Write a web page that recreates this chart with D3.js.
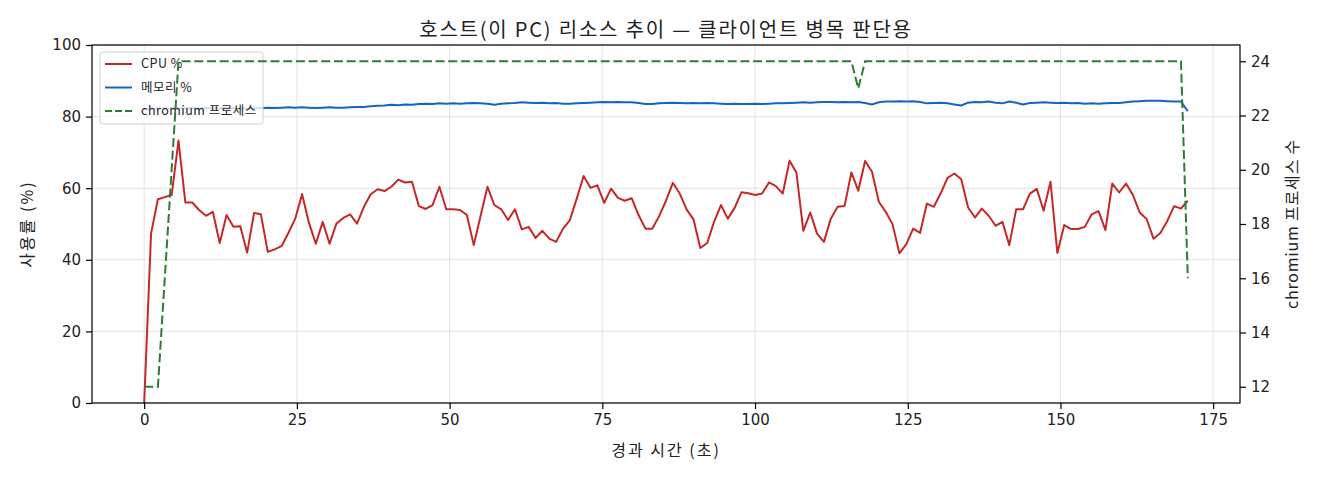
<!DOCTYPE html>
<html>
<head>
<meta charset="utf-8">
<script src="https://cdn.jsdelivr.net/npm/d3@7"></script>
<style>
  body { margin: 0; background: #fff; }
  text { font-family: "Noto Sans CJK KR", "Noto Sans", sans-serif; fill: #222; }
  .tick text { font-family: "DejaVu Sans", "Noto Sans CJK KR", sans-serif; }
</style>
</head>
<body>
<div id="chart"></div>
<script>
// data, one sample every ~1.124 s
const sampleStep = 1.124;

const cpuPct = [
  0, 47.3, 56.9, 57.5, 58.1, 73.3, 56.0, 56.0, 53.9, 52.3,
  53.4, 44.7, 52.5, 49.2, 49.4, 42.0, 53.1, 52.7, 42.2, 42.9,
  43.8, 47.5, 51.5, 58.3, 50.3, 44.5, 50.6, 44.5, 50.1, 51.7,
  52.7, 50.1, 54.8, 58.3, 59.7, 59.2, 60.4, 62.4, 61.6, 61.8,
  55.0, 54.2, 55.3, 60.4, 54.1, 54.1, 53.9, 52.5, 44.1, 52.3,
  60.4, 55.3, 54.1, 51.1, 54.1, 48.5, 49.2, 46.1, 48.1, 45.9,
  45.0, 48.7, 51.1, 57.1, 63.4, 60.1, 60.8, 55.9, 59.9, 57.3,
  56.5, 57.2, 52.5, 48.7, 48.7, 52.2, 56.5, 61.5, 58.5, 54.1,
  51.3, 43.3, 44.7, 50.6, 55.3, 51.5, 54.5, 58.9, 58.6, 58.1,
  58.5, 61.6, 60.6, 58.5, 67.7, 64.3, 48.1, 53.2, 47.3, 45.0,
  51.5, 54.8, 55.0, 64.4, 59.3, 67.6, 64.6, 56.2, 53.4, 49.9,
  41.8, 44.4, 48.7, 47.5, 55.7, 54.8, 58.5, 62.9, 64.1, 62.5,
  54.6, 51.8, 54.3, 52.3, 49.5, 50.6, 44.1, 54.1, 54.1, 58.5,
  59.8, 53.7, 61.8, 41.9, 49.7, 48.6, 48.6, 49.2, 52.7, 53.6,
  48.3, 61.3, 58.8, 61.3, 58.1, 53.2, 51.4, 45.9, 47.5, 50.8,
  55.0, 54.3, 56.5
];

const memPct = [
  82.0, 82.2, 82.3, 82.3, 82.4, 82.3, 82.3, 82.4, 82.3, 82.4,
  82.3, 82.3, 82.4, 82.3, 82.2, 82.3, 82.4, 82.3, 82.5, 82.4,
  82.5, 82.6, 82.5, 82.6, 82.5, 82.4, 82.5, 82.6, 82.5, 82.5,
  82.6, 82.7, 82.7, 82.9, 83.0, 83.1, 83.3, 83.2, 83.4, 83.3,
  83.5, 83.6, 83.5, 83.7, 83.6, 83.7, 83.6, 83.7, 83.8, 83.7,
  83.6, 83.3, 83.6, 83.7, 83.8, 84.0, 83.9, 83.8, 83.9, 83.7,
  83.8, 83.6, 83.6, 83.7, 83.8, 83.9, 84.0, 84.1, 84.0, 84.1,
  84.0, 84.0, 83.8, 83.5, 83.5, 83.7, 83.8, 83.9, 83.8, 83.7,
  83.8, 83.7, 83.8, 83.7, 83.6, 83.5, 83.6, 83.5, 83.5, 83.6,
  83.5, 83.6, 83.7, 83.7, 83.8, 83.9, 84.0, 83.9, 84.0, 84.1,
  84.1, 84.0, 84.1, 84.0, 84.1, 83.8, 83.4, 84.0, 84.2, 84.2,
  84.3, 84.2, 84.3, 84.1, 83.7, 83.8, 83.9, 83.7, 83.4, 83.1,
  83.9, 84.1, 84.0, 84.2, 83.9, 83.7, 84.2, 83.9, 83.4, 83.8,
  83.9, 84.0, 83.9, 83.8, 83.9, 83.7, 83.8, 83.6, 83.7, 83.6,
  83.7, 83.8, 83.8, 84.0, 84.2, 84.3, 84.4, 84.4, 84.4, 84.3,
  84.2, 84.2, 81.5
];

const chromiumCount = [
  12, 12, 12, 16, 20, 24, 24, 24, 24, 24,
  24, 24, 24, 24, 24, 24, 24, 24, 24, 24,
  24, 24, 24, 24, 24, 24, 24, 24, 24, 24,
  24, 24, 24, 24, 24, 24, 24, 24, 24, 24,
  24, 24, 24, 24, 24, 24, 24, 24, 24, 24,
  24, 24, 24, 24, 24, 24, 24, 24, 24, 24,
  24, 24, 24, 24, 24, 24, 24, 24, 24, 24,
  24, 24, 24, 24, 24, 24, 24, 24, 24, 24,
  24, 24, 24, 24, 24, 24, 24, 24, 24, 24,
  24, 24, 24, 24, 24, 24, 24, 24, 24, 24,
  24, 24, 24, 24, 23, 24, 24, 24, 24, 24,
  24, 24, 24, 24, 24, 24, 24, 24, 24, 24,
  24, 24, 24, 24, 24, 24, 24, 24, 24, 24,
  24, 24, 24, 24, 24, 24, 24, 24, 24, 24,
  24, 24, 24, 24, 24, 24, 24, 24, 24, 24,
  24, 24, 16
];

const xTicks = [0, 25, 50, 75, 100, 125, 150, 175];
const leftTicks = [0, 20, 40, 60, 80, 100];
const rightTicks = [12, 14, 16, 18, 20, 22, 24];
const legendLabels = ['CPU %', '메모리 %', 'chromium 프로세스'];

const titleText = '호스트(이 PC) 리소스 추이 — 클라이언트 병목 판단용';
const xLabel = '경과 시간 (초)';
const yLabelLeft = '사용률 (%)';
const yLabelRight = 'chromium 프로세스 수';

// layout
const margin = {top: 45, right: 80, bottom: 77, left: 92};
const width = 1320 - margin.left - margin.right;
const height = 480 - margin.top - margin.bottom;

const colors = {cpu: '#c62828', mem: '#1565c0', chrome: '#2e7d32'};

const svg = d3.select('#chart').append('svg')
    .attr('width', width + margin.left + margin.right)
    .attr('height', height + margin.top + margin.bottom);

const g = svg.append('g')
    .attr('transform', 'translate(' + margin.left + ',' + margin.top + ')');

const times = cpuPct.map((d, i) => i * sampleStep);
const tMax = d3.max(times);

// scales (matplotlib-like 5% padding)
const xScale = d3.scaleLinear()
    .domain([-0.05 * tMax, tMax * 1.05])
    .range([0, width]);

const yScale = d3.scaleLinear()
    .domain([0, 100])
    .range([height, 0]);

const cMin = d3.min(chromiumCount), cMax = d3.max(chromiumCount);
const cPad = (cMax - cMin) * 0.05;
const y2Scale = d3.scaleLinear()
    .domain([cMin - cPad, cMax + cPad])
    .range([height, 0]);

// grid
g.append('g').selectAll('line.gx')
    .data(xTicks).enter().append('line')
    .attr('x1', d => xScale(d)).attr('x2', d => xScale(d))
    .attr('y1', 0).attr('y2', height)
    .attr('stroke', '#e3e3e3').attr('stroke-width', 1);

g.append('g').selectAll('line.gy')
    .data(leftTicks).enter().append('line')
    .attr('x1', 0).attr('x2', width)
    .attr('y1', d => yScale(d)).attr('y2', d => yScale(d))
    .attr('stroke', '#e3e3e3').attr('stroke-width', 1);

// lines
const pctLine = d3.line()
    .x((d, i) => xScale(times[i]))
    .y(d => yScale(d));

const chromeLine = d3.line()
    .x((d, i) => xScale(times[i]))
    .y(d => y2Scale(d));

g.append('path')
    .datum(cpuPct)
    .attr('fill', 'none')
    .attr('stroke', colors.cpu)
    .attr('stroke-width', 2)
    .attr('stroke-linejoin', 'round')
    .attr('d', pctLine);

g.append('path')
    .datum(memPct)
    .attr('fill', 'none')
    .attr('stroke', colors.mem)
    .attr('stroke-width', 2)
    .attr('stroke-linejoin', 'round')
    .attr('d', pctLine);

// legend (belongs to the left axes, so the twin line is drawn over it)
const legend = g.append('g')
    .attr('transform', 'translate(8,7)');

legend.append('rect')
    .attr('width', 163).attr('height', 72)
    .attr('rx', 3)
    .attr('fill', '#fff').attr('fill-opacity', 0.8)
    .attr('stroke', '#cfcfcf');

const legendStyles = [
    {color: colors.cpu, dash: null},
    {color: colors.mem, dash: null},
    {color: colors.chrome, dash: '7,3'}
];

legendLabels.forEach((label, i) => {
    const row = legend.append('g')
        .attr('transform', 'translate(0,' + (12 + i * 23.5) + ')');
    row.append('line')
        .attr('x1', 5).attr('x2', 32)
        .attr('stroke', legendStyles[i].color)
        .attr('stroke-width', 2)
        .attr('stroke-dasharray', legendStyles[i].dash);
    row.append('text')
        .attr('x', 41)
        .attr('dy', '0.35em')
        .attr('font-size', 12.5)
        .attr('letter-spacing', 0.5)
        .text(label);
});

// twin axis line
g.append('path')
    .datum(chromiumCount)
    .attr('fill', 'none')
    .attr('stroke', colors.chrome)
    .attr('stroke-width', 2)
    .attr('stroke-dasharray', '9,3.7')
    .attr('d', chromeLine);

// axes
const xAxis = d3.axisBottom(xScale).tickValues(xTicks).tickSize(6).tickPadding(5);
const yAxis = d3.axisLeft(yScale).tickValues(leftTicks).tickSize(6).tickPadding(5);
const y2Axis = d3.axisRight(y2Scale).tickValues(rightTicks).tickSize(6).tickPadding(5);

function styleAxis(sel) {
    sel.select('.domain').remove();
    sel.selectAll('.tick line').attr('stroke', '#000').attr('stroke-width', 1.2);
    sel.selectAll('.tick text').attr('font-size', 15).attr('fill', '#222');
}

g.append('g').attr('transform', 'translate(0,' + height + ')').call(xAxis).call(styleAxis);
g.append('g').call(yAxis).call(styleAxis);
g.append('g').attr('transform', 'translate(' + width + ',0)').call(y2Axis).call(styleAxis);

// frame
g.append('rect')
    .attr('width', width).attr('height', height)
    .attr('fill', 'none')
    .attr('stroke', '#000').attr('stroke-width', 1.2);

// texts
svg.append('text')
    .attr('x', margin.left + width / 2)
    .attr('y', 30)
    .attr('dy', '0.35em')
    .attr('text-anchor', 'middle')
    .attr('font-size', 20)
    .attr('letter-spacing', 1.8)
    .text(titleText);

svg.append('text')
    .attr('x', margin.left + width / 2)
    .attr('y', 450)
    .attr('dy', '0.35em')
    .attr('text-anchor', 'middle')
    .attr('font-size', 16)
    .attr('letter-spacing', 2)
    .text(xLabel);

svg.append('text')
    .attr('transform', 'translate(27,' + (margin.top + height / 2) + ') rotate(-90)')
    .attr('dy', '0.35em')
    .attr('text-anchor', 'middle')
    .attr('font-size', 16)
    .attr('letter-spacing', 2)
    .text(yLabelLeft);

svg.append('text')
    .attr('transform', 'translate(1292,' + (margin.top + height / 2) + ') rotate(-90)')
    .attr('dy', '0.35em')
    .attr('text-anchor', 'middle')
    .attr('font-size', 16)
    .attr('letter-spacing', 0.8)
    .text(yLabelRight);
</script>
</body>
</html>
